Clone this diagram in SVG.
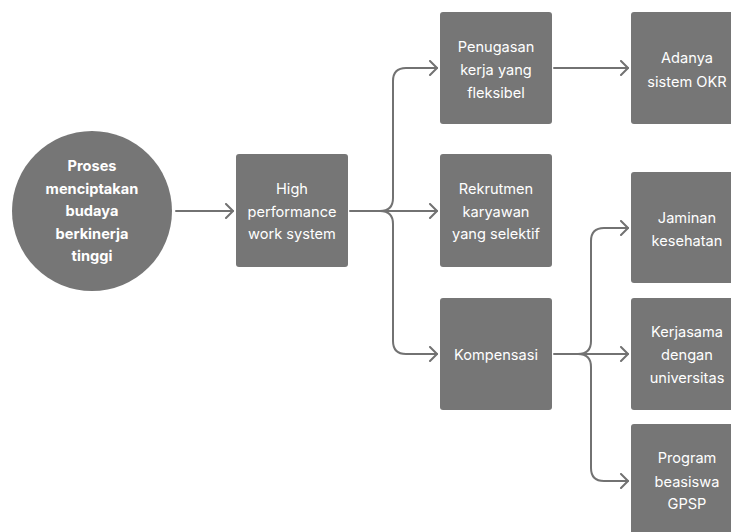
<svg xmlns="http://www.w3.org/2000/svg" width="731" height="532" viewBox="0 0 731 532">
  <style>
    .box { fill: #767676; }
    .lbl { fill: #ffffff; font-family: Inter, "Noto Sans", "Liberation Sans", sans-serif; font-size: 14.6px; text-anchor: middle; }
    .bold { font-weight: 700; }
    .wire { fill: none; stroke: #727272; stroke-width: 2; stroke-linecap: round; stroke-linejoin: round; }
  </style>
  <defs>
    <marker id="chev" markerWidth="12" markerHeight="16" refX="9" refY="8" orient="auto" markerUnits="userSpaceOnUse">
      <path d="M2,1 L9,8 L2,15" fill="none" stroke="#727272" stroke-width="2" stroke-linecap="round" stroke-linejoin="round"/>
    </marker>
  </defs>

  <g id="connectors">
    <path class="wire" marker-end="url(#chev)" d="M176,211 H233"/>
    <path class="wire" marker-end="url(#chev)" d="M350,211 H437"/>
    <path class="wire" marker-end="url(#chev)" d="M380,211 Q393,211 393,198 V81 Q393,68 406,68 H437"/>
    <path class="wire" marker-end="url(#chev)" d="M380,211 Q393,211 393,224 V341 Q393,354 406,354 H437"/>
    <path class="wire" marker-end="url(#chev)" d="M554,68 H628"/>
    <path class="wire" marker-end="url(#chev)" d="M554,354 H628"/>
    <path class="wire" marker-end="url(#chev)" d="M578,354 Q591,354 591,341 V241 Q591,228 604,228 H628"/>
    <path class="wire" marker-end="url(#chev)" d="M578,354 Q591,354 591,367 V468 Q591,481 604,481 H628"/>
  </g>

  <g id="node-proses">
    <circle class="box" cx="92" cy="211" r="80"/>
    <text class="lbl bold" x="92" y="171">Proses</text>
    <text class="lbl bold" x="92" y="193.5">menciptakan</text>
    <text class="lbl bold" x="92" y="216">budaya</text>
    <text class="lbl bold" x="92" y="238.5">berkinerja</text>
    <text class="lbl bold" x="92" y="261">tinggi</text>
  </g>

  <g id="node-hpws">
    <rect class="box" x="236" y="154" width="112" height="113" rx="3"/>
    <text class="lbl" x="292" y="194">High</text>
    <text class="lbl" x="292" y="217">performance</text>
    <text class="lbl" x="292" y="239">work system</text>
  </g>

  <g id="node-penugasan">
    <rect class="box" x="440" y="12" width="112" height="112" rx="3"/>
    <text class="lbl" x="496" y="52">Penugasan</text>
    <text class="lbl" x="496" y="75">kerja yang</text>
    <text class="lbl" x="496" y="98">fleksibel</text>
  </g>

  <g id="node-rekrutmen">
    <rect class="box" x="440" y="154" width="112" height="113" rx="3"/>
    <text class="lbl" x="496" y="194">Rekrutmen</text>
    <text class="lbl" x="496" y="217">karyawan</text>
    <text class="lbl" x="496" y="239">yang selektif</text>
  </g>

  <g id="node-kompensasi">
    <rect class="box" x="440" y="298" width="112" height="112" rx="3"/>
    <text class="lbl" x="496" y="360">Kompensasi</text>
  </g>

  <g id="node-okr">
    <rect class="box" x="631" y="12" width="112" height="112" rx="3"/>
    <text class="lbl" x="687" y="63">Adanya</text>
    <text class="lbl" x="687" y="87">sistem OKR</text>
  </g>

  <g id="node-jaminan">
    <rect class="box" x="631" y="172" width="112" height="111" rx="3"/>
    <text class="lbl" x="687" y="223">Jaminan</text>
    <text class="lbl" x="687" y="246">kesehatan</text>
  </g>

  <g id="node-kerjasama">
    <rect class="box" x="631" y="298" width="112" height="112" rx="3"/>
    <text class="lbl" x="687" y="337">Kerjasama</text>
    <text class="lbl" x="687" y="360">dengan</text>
    <text class="lbl" x="687" y="383">universitas</text>
  </g>

  <g id="node-beasiswa">
    <rect class="box" x="631" y="424" width="112" height="113" rx="3"/>
    <text class="lbl" x="687" y="463">Program</text>
    <text class="lbl" x="687" y="487">beasiswa</text>
    <text class="lbl" x="687" y="509">GPSP</text>
  </g>
</svg>
